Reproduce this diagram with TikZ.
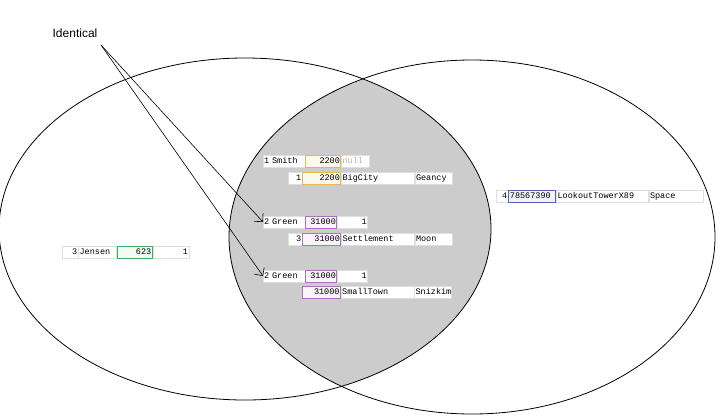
\documentclass[tikz,border=0pt]{standalone}
\usepackage{fontspec}
\setmainfont{Liberation Sans}
\setmonofont{Liberation Mono}
\usetikzlibrary{arrows.meta, positioning}
\definecolor{keyorange}{HTML}{E8B850}
\definecolor{keypurple}{HTML}{B070C0}
\definecolor{keyblue}{HTML}{5060C0}
\definecolor{keygreen}{HTML}{40B060}
\begin{document}
\begin{tikzpicture}[
		x=1pt, y=-1pt,
		cell/.style = {draw=gray!25, fill=white, inner sep=1pt, minimum height=12pt, text height=6.5pt, text depth=2pt, anchor=west, font=\ttfamily\fontsize{8.5}{9}\selectfont},
		key/.style = {cell, draw=#1, line width=1pt, fill=#1!8},
		>={Straight Barb[length=6pt]}
		]
		\useasboundingbox (0,0) rectangle (720,418);
		% Mengen
		\begin{scope}
			\clip (245,229) ellipse [x radius=246, y radius=171];
			\fill[gray!40] (472,237) ellipse [x radius=243, y radius=177];
		\end{scope}
		\draw[thick] (245,229) ellipse [x radius=246, y radius=171];
		\draw[thick] (472,237) ellipse [x radius=243, y radius=177];
		
		% Zeilen
		\node[cell, text width=40pt, align=left] (a1) at (263,161) {1 Smith};
		\node[key=keyorange, text width=33pt, align=right, right=0pt of a1] (a2) {2200};
		\node[cell, text width=26pt, align=left, text=gray!60, right=0pt of a2] (a3) {null};
		\node[cell, text width=12pt, align=right] (b1) at (288,178) {1};
		\node[key=keyorange, text width=36pt, align=right, right=0pt of b1] (b2) {2200};
		\node[cell, text width=71pt, align=left, right=0pt of b2] (b3) {BigCity};
		\node[cell, text width=35pt, align=left, right=0pt of b3] (b4) {Geancy};
		
		\node[cell, text width=40pt, align=left] (c1) at (263,222) {2 Green};
		\node[key=keypurple, text width=29pt, align=right, right=0pt of c1] (c2) {31000};
		\node[cell, text width=28pt, align=right, right=0pt of c2] (c3) {1};
		\node[cell, text width=12pt, align=right] (d1) at (288,239) {3};
		\node[key=keypurple, text width=36pt, align=right, right=0pt of d1] (d2) {31000};
		\node[cell, text width=71pt, align=left, right=0pt of d2] (d3) {Settlement};
		\node[cell, text width=35pt, align=left, right=0pt of d3] (d4) {Moon};
		
		\node[cell, text width=40pt, align=left] (e1) at (263,276) {2 Green};
		\node[key=keypurple, text width=29pt, align=right, right=0pt of e1] (e2) {31000};
		\node[cell, text width=28pt, align=right, right=0pt of e2] (e3) {1};
		\node[key=keypurple, text width=36pt, align=right] (f2) at (302,292) {31000};
		\node[cell, text width=71pt, align=left, right=0pt of f2] (f3) {SmallTown};
		\node[cell, text width=35pt, align=left, right=0pt of f3] (f4) {Snizkim};
		
		\node[cell, text width=10pt, align=right] (g1) at (496,196) {4};
		\node[key=keyblue, text width=45pt, align=left, right=0pt of g1] (g2) {78567390};
		\node[cell, text width=90pt, align=left, right=0pt of g2] (g3) {LookoutTowerX89};
		\node[cell, text width=52pt, align=left, right=0pt of g3] (g4) {Space};
		
		\node[cell, text width=14pt, align=right] (h1) at (62,252) {3};
		\node[cell, text width=36pt, align=left, right=0pt of h1] (h2) {Jensen};
		\node[key=keygreen, text width=33pt, align=right, right=0pt of h2] (h3) {623};
		\node[cell, text width=34pt, align=right, right=0pt of h3] (h4) {1};
		
		% Pfeile
		\node[font=\fontsize{12}{14}\selectfont] (same) at (75,33) {Identical};
		\coordinate (tip) at (101,45);
		\draw[->, semithick] (tip) -- (c1.west);
		\draw[->, semithick] (tip) -- (e1.west);
	\end{tikzpicture}
\end{document}
